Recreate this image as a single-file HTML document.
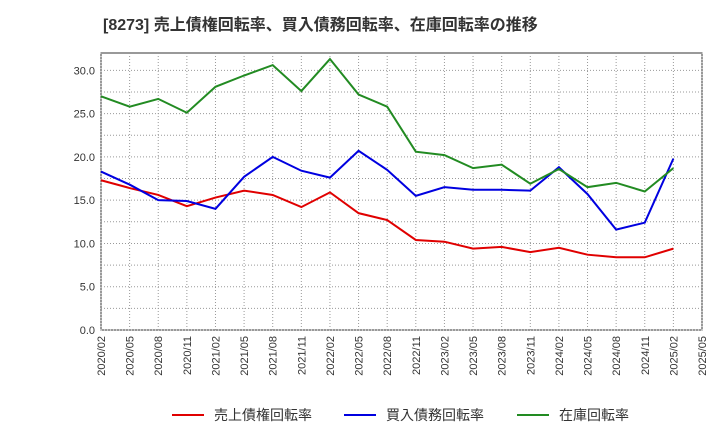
<!DOCTYPE html>
<html><head><meta charset="utf-8"><style>
body{margin:0;background:#fff;font-family:"Liberation Sans","Noto Sans CJK JP",sans-serif;}
</style></head><body>
<svg width="720" height="440" xmlns="http://www.w3.org/2000/svg">
<text x="103" y="30" font-size="16" font-weight="bold" fill="#333" font-family="Liberation Sans, Noto Sans CJK JP, sans-serif">[8273]  売上債権回転率、買入債務回転率、在庫回転率の推移</text>
<g id="grid"></g><g id="axes"></g><g id="series"></g><g id="legend"></g>
</svg>
<script>
const labels=["2020/02","2020/05","2020/08","2020/11","2021/02","2021/05","2021/08","2021/11","2022/02","2022/05","2022/08","2022/11","2023/02","2023/05","2023/08","2023/11","2024/02","2024/05","2024/08","2024/11","2025/02","2025/05"];
const yTicks=[0,5,10,15,20,25,30];
const red=[17.3,16.4,15.6,14.3,15.3,16.1,15.6,14.2,15.9,13.5,12.7,10.4,10.2,9.4,9.6,9.0,9.5,8.7,8.4,8.4,9.4];
const blue=[18.3,16.8,15.0,14.9,14.0,17.7,20.0,18.4,17.6,20.7,18.5,15.5,16.5,16.2,16.2,16.1,18.8,15.7,11.6,12.4,19.8];
const green=[27.0,25.8,26.7,25.1,28.1,29.4,30.6,27.6,31.3,27.2,25.8,20.6,20.2,18.7,19.1,16.9,18.6,16.5,17.0,16.0,18.7];
const names=["売上債権回転率","買入債務回転率","在庫回転率"];
const L=101,R=702,T=53,B=330;
const x=i=>L+i*(R-L)/(labels.length-1);
const y=v=>B-v*(B-T)/32;
const NS="http://www.w3.org/2000/svg";
function mk(t,a,p){const e=document.createElementNS(NS,t);for(const k in a)e.setAttribute(k,a[k]);p.appendChild(e);return e;}
const grid=document.getElementById('grid'),axes=document.getElementById('axes'),ser=document.getElementById('series'),leg=document.getElementById('legend');
const bg=mk('rect',{x:L,y:T,width:R-L,height:B-T,fill:'#fff',stroke:'#333','stroke-width':1},grid);


labels.forEach((l,i)=>{
 const g=mk('line',{x1:x(i),x2:x(i),y1:T,y2:B,stroke:'#999','stroke-dasharray':'1,2'},grid);
 
 
 const t=mk('text',{x:0,y:0,'font-size':11,fill:'#333','text-anchor':'end',transform:`translate(${x(i)+4},${B+6}) rotate(-90)`},axes);
 t.textContent=l;
 
 
});
for(let v=0;v<=32;v+=2.5){
 const g=mk('line',{x1:L,x2:R,y1:y(v),y2:y(v),stroke:'#999','stroke-dasharray':'1,2'},grid);
 
 
}
yTicks.forEach(v=>{
 const t=mk('text',{x:L-6,y:y(v)+4,'font-size':11,fill:'#333','text-anchor':'end'},axes);
 t.textContent=v.toFixed(1);
 
 
});
const series=[[red,'#e00000'],[blue,'#0000e0'],[green,'#228b22']];
series.forEach(([d,c],k)=>{
 const p=mk('polyline',{points:d.map((v,i)=>x(i)+','+y(v)).join(' '),fill:'none',stroke:c,'stroke-width':2},ser);
 
 
 const lx=[172,344,517][k];
 const ll=mk('line',{x1:lx,x2:lx+32,y1:415,y2:415,stroke:c,'stroke-width':2},leg);
 
 
 const lt=mk('text',{x:lx+42,y:420,'font-size':14,fill:'#333'},leg);
 lt.textContent=names[k];
 
 
});
</script>
</body></html>
